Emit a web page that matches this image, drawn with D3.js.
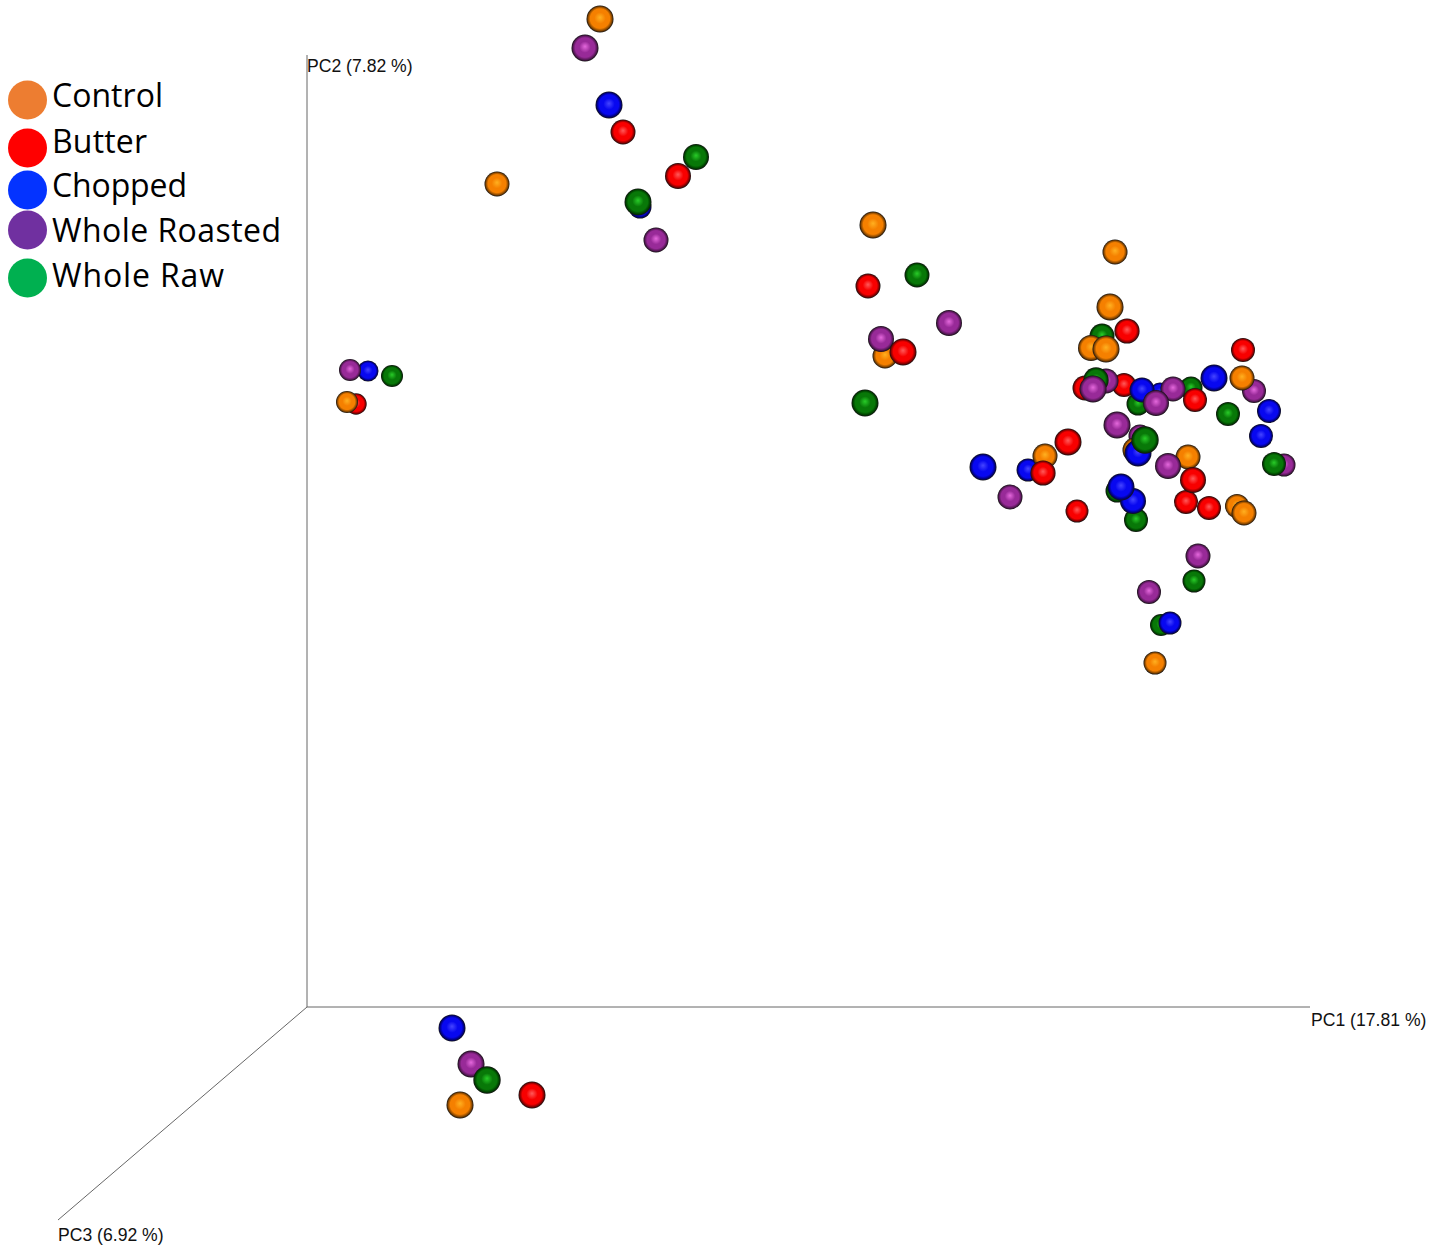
<!DOCTYPE html>
<html>
<head>
<meta charset="utf-8">
<script src="https://cdn.jsdelivr.net/npm/d3@7"></script>
<style>
  html, body { margin: 0; padding: 0; background: #fff; }
  svg { display: block; }
</style>
</head>
<body>
<svg width="1441" height="1253"></svg>
<script>
// each sample is [PC1, PC2, depth] in axis units
const control = [[2.93,9.88,3],[1.90,8.23,2],[5.66,7.82,3],[5.78,6.51,2],[8.08,7.55,2],[8.03,7.00,3],[7.84,6.59,2.5],[7.99,6.58,3],[9.35,6.29,2],[7.38,5.51,2],[8.81,5.50,2],[9.30,5.01,1.5],[9.37,4.94,2],[8.48,3.44,1],[0.40,6.05,0.5],[1.53,-0.98,3],[8.28,5.57,2]];
const butter = [[3.16,8.75,2],[3.71,8.31,2.5],[5.61,7.21,2],[5.96,6.55,3],[8.20,6.76,2.1],[9.36,6.57,1.5],[7.78,6.19,2],[8.17,6.22,1.5],[8.88,6.07,1.5],[7.61,5.65,3],[7.36,5.34,2.1],[8.86,5.27,2.5],[8.79,5.05,1.5],[9.02,4.99,1.5],[7.70,4.96,1],[0.49,6.03,0.2],[2.25,-0.88,3]];
const chopped = [[3.02,9.02,3],[3.33,8.00,1],[9.07,6.29,3],[8.35,6.17,2],[8.53,6.14,0],[9.62,5.96,1.5],[9.54,5.71,1.5],[8.31,5.54,3],[6.76,5.40,3],[7.21,5.37,1],[8.14,5.20,3],[8.26,5.06,2.5],[8.63,3.84,1],[0.61,6.36,0],[1.45,-0.21,3]];
const wholeRoasted = [[2.78,9.59,3],[3.49,7.67,2],[6.42,6.84,2.5],[5.74,6.68,2.5],[7.99,6.26,2],[7.86,6.18,3],[8.66,6.18,2],[8.49,6.04,2.5],[9.47,6.16,1.5],[8.10,5.82,3],[8.33,5.71,1],[8.61,5.41,2.5],[9.77,5.42,1],[7.03,5.10,2],[8.91,4.51,2],[8.42,4.15,1.5],[0.43,6.37,0.5],[1.64,-0.57,3]];
const wholeRaw = [[3.89,8.50,2.5],[3.31,8.05,3],[6.10,7.32,2],[5.58,6.04,3],[7.95,6.71,2],[7.89,6.27,2.2],[8.84,6.19,1],[8.31,6.03,1],[9.21,5.93,1.5],[8.38,5.67,3.2],[9.67,5.43,1.5],[8.10,5.16,1],[8.29,4.87,1.5],[8.87,4.26,1],[8.54,3.82,0.5],[0.85,6.31,0.5],[1.80,-0.73,3.2]];

const groupNames = ["Control", "Butter", "Chopped", "Whole Roasted", "Whole Raw"];
const groupValues = [control, butter, chopped, wholeRoasted, wholeRaw];
const axisLabels = ["PC1 (17.81 %)", "PC2 (7.82 %)", "PC3 (6.92 %)"];

const legendColors = ["#ed7d31", "#ff0000", "#0433ff", "#7030a0", "#00b050"];
const sphereColors = [
  { light: "#ffb020", base: "#f58000", dark: "#8a4800" },
  { light: "#ff5a5a", base: "#f80000", dark: "#8a0000" },
  { light: "#4545ff", base: "#0808f0", dark: "#000088" },
  { light: "#e468dc", base: "#982a98", dark: "#581858" },
  { light: "#28cc28", base: "#087808", dark: "#004400" }
];

const svg = d3.select("svg");

const xScale = d3.scaleLinear().domain([0, 10.03]).range([307, 1310]);
const yScale = d3.scaleLinear().domain([0, 9.52]).range([1007, 55]);
const rScale = d3.scaleLinear().domain([0, 10]).range([10.5, 20.5]);

// sphere shading
const defs = svg.append("defs");
sphereColors.forEach((c, i) => {
  const grad = defs.append("radialGradient")
    .attr("id", "sphere" + i)
    .attr("cx", "50%").attr("cy", "50%").attr("r", "50%")
    .attr("fx", "50%").attr("fy", "44%");
  grad.append("stop").attr("offset", "0%").attr("stop-color", c.light);
  grad.append("stop").attr("offset", "42%").attr("stop-color", c.base);
  grad.append("stop").attr("offset", "72%").attr("stop-color", c.base);
  grad.append("stop").attr("offset", "88%").attr("stop-color", c.dark);
  grad.append("stop").attr("offset", "100%").attr("stop-color", "#111");
});

// axes
const origin = [xScale(0), yScale(0)];
const axisEnds = [[1310, 1007], [307, 55], [58, 1220]];
svg.append("g")
  .selectAll("line")
  .data(axisEnds)
  .join("line")
  .attr("x1", origin[0])
  .attr("y1", origin[1])
  .attr("x2", d => d[0])
  .attr("y2", d => d[1])
  .attr("stroke", "#666")
  .attr("stroke-width", 1);

const axisLabelPos = [[1311, 1026], [307, 72], [58, 1241]];
svg.append("g")
  .selectAll("text")
  .data(axisLabels)
  .join("text")
  .attr("x", (d, i) => axisLabelPos[i][0])
  .attr("y", (d, i) => axisLabelPos[i][1])
  .attr("font-family", "'Liberation Sans', Arial, sans-serif")
  .attr("font-size", 17.6)
  .attr("fill", "#111")
  .text(d => d);

// spheres, far ones first so the near ones cover them
const samples = [];
groupValues.forEach((values, g) => {
  values.forEach(v => samples.push({ pc1: v[0], pc2: v[1], depth: v[2], group: g }));
});
samples.sort((a, b) => a.depth - b.depth);

svg.append("g")
  .selectAll("circle")
  .data(samples)
  .join("circle")
  .attr("cx", d => xScale(d.pc1))
  .attr("cy", d => yScale(d.pc2))
  .attr("r", d => rScale(d.depth))
  .attr("fill", d => "url(#sphere" + d.group + ")");

// legend
const legendY = [100, 148, 190, 230, 278];
const legendTextY = [107, 153, 197, 242, 287];
const legendWidths = [111, 95, 135, 229, 172];
const legend = svg.append("g");
legend.selectAll("circle")
  .data(groupNames)
  .join("circle")
  .attr("cx", 27.5)
  .attr("cy", (d, i) => legendY[i])
  .attr("r", 19.5)
  .attr("fill", (d, i) => legendColors[i]);
legend.selectAll("text")
  .data(groupNames)
  .join("text")
  .attr("x", 52)
  .attr("y", (d, i) => legendTextY[i])
  .attr("font-family", "'Open Sans', 'Noto Sans', sans-serif")
  .attr("font-size", 32)
  .attr("textLength", (d, i) => legendWidths[i])
  .attr("fill", "#000")
  .text(d => d);
</script>
</body>
</html>
